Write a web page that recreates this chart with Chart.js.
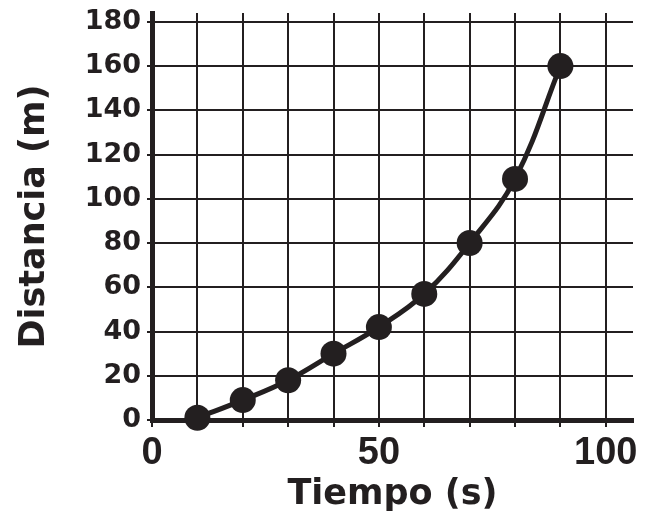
<!DOCTYPE html>
<html>
<head>
<meta charset="utf-8">
<script src="https://cdn.jsdelivr.net/npm/chart.js@4/dist/chart.umd.min.js"></script>
<style>
  html, body { margin: 0; padding: 0; background: #ffffff; }
  #wrap { width: 649px; height: 516px; }
</style>
</head>
<body>
<div id="wrap"><canvas id="distChart" width="649" height="516"></canvas></div>
<script>
// Data
const tiempo = [10, 20, 30, 40, 50, 60, 70, 80, 90];
const distancia = [1, 9, 18, 30, 42, 57, 80, 109, 160];

// Grid / tick values
const xGrid = [0, 10, 20, 30, 40, 50, 60, 70, 80, 90, 100];
const xTickLabels = [0, 50, 100];
const yTicks = [0, 20, 40, 60, 80, 100, 120, 140, 160, 180];

const ink = '#231f20';

// use a fixed list of ticks (no extra tick at the axis max)
function fixedTicks(values) {
    return function(axis) {
        axis.ticks = values.map(v => ({ value: v }));
    };
}

const points = tiempo.map((t, i) => ({ x: t, y: distancia[i] }));

new Chart(document.getElementById('distChart'), {
    type: 'line',
    data: {
        datasets: [{
            data: points,
            borderColor: ink,
            borderWidth: 5,
            backgroundColor: ink,
            pointRadius: 13,
            pointBorderWidth: 0,
            pointBackgroundColor: ink,
            tension: 0.4,
            clip: false
        }]
    },
    options: {
        responsive: false,
        animation: false,
        layout: {
            padding: { top: 12, right: 16, left: 14, bottom: 0 }
        },
        plugins: {
            legend: { display: false },
            tooltip: { enabled: false }
        },
        scales: {
            x: {
                type: 'linear',
                min: 0,
                max: 106,
                afterBuildTicks: fixedTicks(xGrid),
                afterFit: function(scale) { scale.height = 96; },
                grid: {
                    color: ink,
                    lineWidth: 2,
                    drawTicks: true,
                    tickLength: 7
                },
                border: { color: ink, width: 5 },
                ticks: {
                    color: ink,
                    padding: 4,
                    maxRotation: 0,
                    autoSkip: false,
                    font: { family: 'Liberation Sans', size: 38, weight: 'bold' },
                    callback: function(value) {
                        return xTickLabels.includes(value) ? value : '';
                    }
                },
                title: {
                    display: true,
                    text: 'Tiempo (s)',
                    color: ink,
                    padding: { top: 0, bottom: 0 },
                    font: { family: 'DejaVu Sans', size: 35, weight: 'bold' }
                }
            },
            y: {
                min: 0,
                max: 184,
                afterBuildTicks: fixedTicks(yTicks),
                afterFit: function(scale) {
                    scale.width = 138;
                    scale.paddingTop = 0;
                    scale.paddingBottom = 0;
                },
                grid: {
                    color: ink,
                    lineWidth: 2,
                    drawTicks: true,
                    tickLength: 5
                },
                border: { color: ink, width: 5 },
                ticks: {
                    color: ink,
                    padding: 6,
                    font: { family: 'DejaVu Sans', size: 27, weight: 'bold' }
                },
                title: {
                    display: true,
                    text: 'Distancia (m)',
                    color: ink,
                    padding: { top: 0, bottom: 0 },
                    font: { family: 'DejaVu Sans', size: 35, weight: 'bold' }
                }
            }
        }
    }
});
</script>
</body>
</html>
